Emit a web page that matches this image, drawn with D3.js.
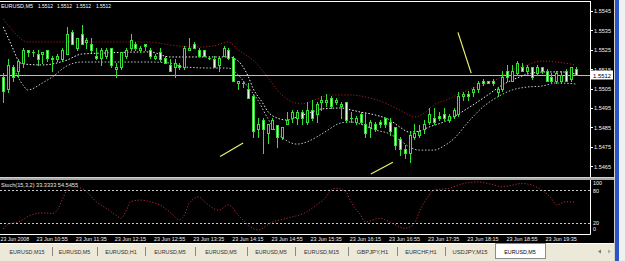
<!DOCTYPE html>
<html><head><meta charset="utf-8">
<script src="https://d3js.org/d3.v7.min.js"></script>
<style>html,body{margin:0;padding:0;background:#fff;overflow:hidden}svg{display:block}</style>
</head><body>
<svg id="c" width="625" height="261"></svg>
<script>
// ---------- DATA ----------
const symbol = "EURUSD,M5";
const lastPrice = 1.5512;
const opens  = [1.5511,1.5505,1.5516,1.5514,1.5518,1.5525,1.5524,1.5523,1.5523,1.5525,1.5521,1.5520,1.5520,1.5523,1.5534,1.5526,1.5533,1.5529,1.5528,1.5522,1.5521,1.5522,1.5526,1.5515,1.5516,1.5522,1.5526,1.5528,1.5525,1.5528,1.5525,1.5521,1.5524,1.5521,1.5517,1.5516,1.5517,1.5516,1.5525,1.5528,1.5525,1.5525,1.5521,1.5520,1.5517,1.5522,1.5525,1.5521,1.5508,1.5508,1.5505,1.5501,1.5484,1.5489,1.5482,1.5484,1.5486,1.5480,1.5487,1.5490,1.5490,1.5493,1.5488,1.5494,1.5492,1.5498,1.5498,1.5500,1.5498,1.5496,1.5498,1.5490,1.5488,1.5492,1.5487,1.5485,1.5487,1.5488,1.5490,1.5488,1.5485,1.5479,1.5474,1.5472,1.5480,1.5481,1.5484,1.5488,1.5490,1.5491,1.5492,1.5489,1.5491,1.5492,1.5501,1.5502,1.5503,1.5505,1.5509,1.5509,1.5509,1.5503,1.5505,1.5514,1.5509,1.5513,1.5516,1.5514,1.5516,1.5513,1.5516,1.5514,1.5511,1.5509,1.5509,1.5514,1.5510,1.5515];
const highs  = [1.5513,1.5520,1.5517,1.5520,1.5526,1.5525,1.5525,1.5525,1.5524,1.5525,1.5522,1.5523,1.5526,1.5537,1.5535,1.5531,1.5538,1.5531,1.5531,1.5526,1.5526,1.5526,1.5526,1.5518,1.5524,1.5526,1.5533,1.5529,1.5527,1.5528,1.5526,1.5523,1.5526,1.5522,1.5520,1.5520,1.5518,1.5527,1.5531,1.5529,1.5526,1.5525,1.5522,1.5522,1.5522,1.5527,1.5526,1.5522,1.5509,1.5509,1.5508,1.5502,1.5490,1.5490,1.5487,1.5490,1.5486,1.5485,1.5493,1.5494,1.5494,1.5494,1.5498,1.5499,1.5498,1.5501,1.5502,1.5501,1.5500,1.5498,1.5498,1.5493,1.5491,1.5493,1.5493,1.5489,1.5488,1.5489,1.5490,1.5490,1.5485,1.5480,1.5476,1.5483,1.5487,1.5486,1.5489,1.5495,1.5495,1.5493,1.5495,1.5492,1.5495,1.5503,1.5503,1.5504,1.5506,1.5509,1.5510,1.5509,1.5510,1.5506,1.5514,1.5517,1.5517,1.5519,1.5518,1.5517,1.5516,1.5517,1.5516,1.5515,1.5513,1.5514,1.5514,1.5515,1.5516,1.5516];
const lows   = [1.5498,1.5503,1.5509,1.5511,1.5516,1.5522,1.5522,1.5517,1.5518,1.5519,1.5514,1.5519,1.5519,1.5523,1.5528,1.5525,1.5528,1.5526,1.5524,1.5520,1.5517,1.5521,1.5516,1.5511,1.5515,1.5521,1.5525,1.5525,1.5524,1.5525,1.5521,1.5520,1.5519,1.5518,1.5514,1.5511,1.5515,1.5515,1.5525,1.5526,1.5522,1.5522,1.5520,1.5516,1.5514,1.5522,1.5520,1.5509,1.5505,1.5506,1.5500,1.5480,1.5480,1.5472,1.5477,1.5484,1.5475,1.5479,1.5487,1.5488,1.5487,1.5487,1.5487,1.5489,1.5488,1.5494,1.5496,1.5495,1.5497,1.5490,1.5488,1.5488,1.5487,1.5487,1.5480,1.5480,1.5483,1.5485,1.5485,1.5481,1.5474,1.5471,1.5469,1.5467,1.5479,1.5480,1.5482,1.5487,1.5487,1.5489,1.5489,1.5488,1.5490,1.5491,1.5499,1.5499,1.5501,1.5503,1.5507,1.5508,1.5507,1.5501,1.5504,1.5509,1.5509,1.5512,1.5514,1.5513,1.5510,1.5512,1.5513,1.5509,1.5508,1.5508,1.5508,1.5509,1.5509,1.5513];
const closes = [1.5504,1.5517,1.5511,1.5519,1.5525,1.5524,1.5524,1.5520,1.5524,1.5521,1.5520,1.5522,1.5525,1.5533,1.5528,1.5531,1.5528,1.5530,1.5525,1.5521,1.5525,1.5525,1.5517,1.5516,1.5524,1.5525,1.5530,1.5526,1.5526,1.5527,1.5522,1.5522,1.5520,1.5518,1.5514,1.5518,1.5516,1.5526,1.5526,1.5526,1.5522,1.5522,1.5521,1.5516,1.5521,1.5526,1.5521,1.5509,1.5509,1.5508,1.5500,1.5483,1.5487,1.5484,1.5487,1.5489,1.5480,1.5485,1.5489,1.5493,1.5493,1.5490,1.5494,1.5490,1.5497,1.5499,1.5499,1.5496,1.5499,1.5497,1.5489,1.5490,1.5490,1.5488,1.5482,1.5488,1.5484,1.5487,1.5487,1.5483,1.5476,1.5474,1.5472,1.5481,1.5482,1.5483,1.5487,1.5492,1.5488,1.5490,1.5490,1.5491,1.5494,1.5501,1.5502,1.5501,1.5505,1.5508,1.5508,1.5508,1.5508,1.5505,1.5511,1.5511,1.5514,1.5518,1.5514,1.5516,1.5511,1.5516,1.5514,1.5509,1.5509,1.5513,1.5512,1.5509,1.5516,1.5512];

// indicator bands: [bar index] and [price]
const upperIdx = [0,2,5,12,20,30,34,40,43,46,48,51,54,56,58,61,64,67,71,74,78,81,84,86,88,91,93,95,98,101,104,107,110,113,117];
const upperVal = [1.55409,1.55347,1.55290,1.55290,1.55290,1.55290,1.55275,1.55264,1.55270,1.55290,1.55249,1.55197,1.55110,1.55043,1.54996,1.54971,1.54996,1.55017,1.55017,1.55007,1.54976,1.54940,1.54904,1.54924,1.54966,1.54996,1.55022,1.55043,1.55069,1.55100,1.55146,1.55172,1.55192,1.55187,1.55172];
const midIdx = [0,2,3,4,8,13,16,20,30,34,46,48,49,50,51,53,54,56,58,60,63,65,69,71,73,76,79,81,83,85,87,90,92,95,99,102,105,108,111,114,117];
const midVal = [1.55368,1.55254,1.55197,1.55177,1.55172,1.55197,1.55228,1.55233,1.55239,1.55213,1.55213,1.55192,1.55161,1.55115,1.55053,1.54976,1.54934,1.54898,1.54888,1.54904,1.54929,1.54945,1.54950,1.54940,1.54929,1.54914,1.54888,1.54852,1.54826,1.54831,1.54852,1.54878,1.54904,1.54950,1.55017,1.55069,1.55105,1.55130,1.55136,1.55136,1.55125];
const lowerIdx = [2,4,5,8,10,13,16,30,34,37,43,46,48,50,52,54,56,58,60,62,64,66,69,71,73,76,79,81,83,85,88,90,92,95,98,101,104,107,110,113,117];
const lowerVal = [1.55161,1.55069,1.55043,1.55079,1.55110,1.55167,1.55187,1.55187,1.55182,1.55161,1.55156,1.55156,1.55120,1.55058,1.54991,1.54898,1.54821,1.54780,1.54764,1.54775,1.54800,1.54831,1.54873,1.54878,1.54867,1.54837,1.54816,1.54785,1.54749,1.54733,1.54733,1.54754,1.54790,1.54878,1.54955,1.55007,1.55043,1.55058,1.55063,1.55079,1.55074];

// stochastic
const stochIdx = [0,1,3,6,8,10,11,12,13,14,16,17,19,21,23,24,25,26,28,30,32,34,36,37,38,40,41,44,46,48,51,52,55,58,62,64,66,67,68,70,71,73,74,77,78,81,82,84,85,87,88,91,94,97,99,102,106,108,110,112,113,115,117];
const stochVal = [8,17,21,35,38,37,43,62,81,87,84,78,59,47,34,28,40,59,62,59,53,40,25,34,56,68,60,43,53,34,9,6,21,28,40,53,68,81,84,78,59,34,21,28,25,12,9,18,40,71,81,84,93,96,93,87,93,90,81,65,53,59,58];
const stochLevels = [80, 20];
const stochScaleLabels = [100, 80, 20, 0];
const stochTitle = "Stoch(15,3,2) 33.3333 54.5455";

// hand-drawn trendlines [bar index, price]
const trendlines = [
  [[44.3,1.5470],[49.0,1.5477]],
  [[75.1,1.5461],[79.6,1.5467]],
  [[92.9,1.5534],[95.6,1.5513]]
];

const priceTicks = [1.5545,1.5535,1.5525,1.5515,1.5505,1.5495,1.5485,1.5475,1.5465];
const timeLabels = ["23 Jun 2008","23 Jun 10:55","23 Jun 11:35","23 Jun 12:15","23 Jun 12:55","23 Jun 13:35","23 Jun 14:15","23 Jun 14:55","23 Jun 15:35","23 Jun 16:15","23 Jun 16:55","23 Jun 17:35","23 Jun 18:15","23 Jun 18:55","23 Jun 19:35"];
const timeLabelIdx = [-1,7,15,23,31,39,47,55,63,71,79,87,95,103,111];
const tabs = ["EURUSD,M15","EURUSD,M5","EURUSD,H1","EURUSD,M5","EURUSD,M5","EURUSD,M5","EURUSD,M15","GBPJPY,H1","EURCHF,H1","USDJPY,M15","EURUSD,M5"];
const activeTab = 10;

// ---------- LAYOUT ----------
const svg = d3.select("#c");
const plotR = 590, axisR = 613;
const mainTop = 2, mainBot = 177, stTop = 180, stBot = 234;
const FONT = "'Liberation Sans', Arial, sans-serif";

const x = d3.scaleLinear().domain([0, 117]).range([3.3, 575.9]);
const y = d3.scaleLinear().domain([1.5465, 1.5545]).range([166.2, 11]);
const ys = d3.scaleLinear().domain([0, 100]).range([233.2, 179.8]);

// backgrounds
svg.append("rect").attr("x",0).attr("y",0).attr("width",625).attr("height",261).attr("fill","#f4f4f4");
svg.append("rect").attr("x",0).attr("y",0).attr("width",axisR+1).attr("height",243).attr("fill","#000");
svg.append("rect").attr("x",axisR+1).attr("y",0).attr("width",2).attr("height",261).attr("fill","#d4d0c8");
svg.append("rect").attr("x",615).attr("y",0).attr("width",4).attr("height",261).attr("fill","#2a55c8");
svg.append("rect").attr("x",619).attr("y",0).attr("width",6).attr("height",261).attr("fill","#f0f0f0");

// frame
svg.append("line").attr("x1",0).attr("x2",plotR+0.5).attr("y1",1.5).attr("y2",1.5).attr("stroke","#fff");
svg.append("line").attr("x1",plotR+0.5).attr("x2",plotR+0.5).attr("y1",1).attr("y2",stBot+0.5).attr("stroke","#fff");
svg.append("line").attr("x1",0).attr("x2",plotR+0.5).attr("y1",stBot+0.5).attr("y2",stBot+0.5).attr("stroke","#fff");
// panel separator
svg.append("rect").attr("x",0).attr("y",mainBot).attr("width",axisR+1).attr("height",3).attr("fill","#a8a8a8");
svg.append("line").attr("x1",0).attr("x2",axisR+1).attr("y1",mainBot+0.5).attr("y2",mainBot+0.5).attr("stroke","#d0d0d0");

// clip paths
const defs = svg.append("defs");
defs.append("clipPath").attr("id","mainClip").append("rect").attr("x",0).attr("y",mainTop).attr("width",plotR).attr("height",mainBot-mainTop);
defs.append("clipPath").attr("id","stClip").append("rect").attr("x",0).attr("y",stTop).attr("width",plotR).attr("height",stBot-stTop);

const main = svg.append("g").attr("clip-path","url(#mainClip)");

// bid line
main.append("line").attr("x1",0).attr("x2",plotR).attr("y1",Math.round(y(lastPrice))+0.5).attr("y2",Math.round(y(lastPrice))+0.5).attr("stroke","#bdbdbd");

// band lines
const bandLine = d3.line().x(d=>x(d[0])).y(d=>y(d[1])).curve(d3.curveMonotoneX);
function pairs(a,b){ return a.map((v,i)=>[v,b[i]]); }
main.append("path").attr("d",bandLine(pairs(upperIdx,upperVal))).attr("fill","none").attr("stroke","#a02020").attr("stroke-width",1).attr("stroke-dasharray","1.2,1.8");
main.append("path").attr("d",bandLine(pairs(lowerIdx,lowerVal))).attr("fill","none").attr("stroke","#b8c8cc").attr("stroke-width",1).attr("stroke-dasharray","1.5,1.8");
main.append("path").attr("d",bandLine(pairs(midIdx,midVal))).attr("fill","none").attr("stroke","#f0f0f0").attr("stroke-width",1).attr("stroke-dasharray","1.5,1.8");

// candles
const bars = opens.map((o,i)=>({i,o,h:highs[i],l:lows[i],c:closes[i]}));
const cg = main.append("g");
const candleCol = "#33e033";
bars.forEach(b=>{
  const px = Math.round(x(b.i));
  const yh = Math.round(y(b.h)), yl = Math.round(y(b.l));
  cg.append("line").attr("x1",px+0.5).attr("x2",px+0.5).attr("y1",yh).attr("y2",yl+1).attr("stroke",candleCol);
  const yt = Math.round(y(Math.max(b.o,b.c))), yb = Math.round(y(Math.min(b.o,b.c)));
  const up = b.c > b.o;
  if (yb - yt < 1) {
    cg.append("line").attr("x1",px-1).attr("x2",px+2).attr("y1",yt+0.5).attr("y2",yt+0.5).attr("stroke",candleCol);
  } else {
    cg.append("rect").attr("x",px-0.5).attr("y",yt+0.5).attr("width",2).attr("height",yb-yt)
      .attr("fill", up ? "#000" : "#e4ffe4").attr("stroke", candleCol).attr("stroke-width",1);
  }
});

// trendlines
trendlines.forEach(t=>{
  main.append("line").attr("x1",x(t[0][0])).attr("y1",y(t[0][1])).attr("x2",x(t[1][0])).attr("y2",y(t[1][1]))
    .attr("stroke","#f0f070").attr("stroke-width",1.2);
});

// title
const title = svg.append("g").attr("font-family",FONT).attr("font-size",6).attr("fill","#fff");
title.append("text").attr("x",1).attr("y",8.3).attr("textLength",32).attr("lengthAdjust","spacingAndGlyphs").text(symbol);
[38,57,76,96].forEach(tx=>{
  title.append("text").attr("x",tx).attr("y",8.3).attr("textLength",15).attr("lengthAdjust","spacingAndGlyphs").text(lastPrice.toFixed(4));
});

// price axis
const pa = svg.append("g").attr("font-family",FONT).attr("font-size",6).attr("fill","#f0f0f0");
priceTicks.forEach(p=>{
  const ty = y(p);
  svg.append("line").attr("x1",plotR+1).attr("x2",plotR+3).attr("y1",Math.round(ty)+0.5).attr("y2",Math.round(ty)+0.5).attr("stroke","#fff");
  pa.append("text").attr("x",594).attr("y",ty+2.3).attr("textLength",17).attr("lengthAdjust","spacingAndGlyphs").text(p.toFixed(4));
});
// last price box
const ly = Math.round(y(lastPrice));
svg.append("rect").attr("x",591).attr("y",ly-4.5).attr("width",22).attr("height",9).attr("fill","#fff");
svg.append("text").attr("x",593).attr("y",ly+2.5).attr("font-family",FONT).attr("font-size",6).attr("fill","#000")
  .attr("textLength",18).attr("lengthAdjust","spacingAndGlyphs").text(lastPrice.toFixed(4));

// stochastic panel
const st = svg.append("g").attr("clip-path","url(#stClip)");
stochLevels.forEach(v=>{
  st.append("line").attr("x1",0).attr("x2",plotR).attr("y1",Math.round(ys(v))+0.5).attr("y2",Math.round(ys(v))+0.5)
    .attr("stroke","#c8c8c8").attr("stroke-dasharray","2,2");
});
const stLine = d3.line().x(d=>x(d[0])).y(d=>ys(d[1])).curve(d3.curveMonotoneX);
st.append("path").attr("d",stLine(pairs(stochIdx,stochVal))).attr("fill","none").attr("stroke","#b03038").attr("stroke-width",1).attr("stroke-dasharray","1.2,1.8");
svg.append("text").attr("x",1).attr("y",187).attr("font-family",FONT).attr("font-size",6).attr("fill","#e8e8e8")
  .attr("textLength",77).attr("lengthAdjust","spacingAndGlyphs").text(stochTitle);
const sa = svg.append("g").attr("font-family",FONT).attr("font-size",6).attr("fill","#f0f0f0");
stochScaleLabels.forEach(v=>{
  const ty = Math.max(183, Math.min(228.5, ys(v)));
  sa.append("text").attr("x",593).attr("y",ty+2.3).attr("textLength",String(v).length*3).attr("lengthAdjust","spacingAndGlyphs").text(v);
});

// time axis
const ta = svg.append("g").attr("font-family",FONT).attr("font-size",6).attr("fill","#f0f0f0");
timeLabels.forEach((t,k)=>{
  ta.append("text").attr("x",Math.max(0.5, x(timeLabelIdx[k])-1)).attr("y",240.7).attr("textLength",t.length*2.6).attr("lengthAdjust","spacingAndGlyphs").text(t);
});

// tab bar
svg.append("rect").attr("x",0).attr("y",243).attr("width",axisR+1).attr("height",18).attr("fill","#ece9d8");
svg.append("line").attr("x1",0).attr("x2",axisR+1).attr("y1",243.5).attr("y2",243.5).attr("stroke","#fff");
const sepX = [52,97,145,195,247,295,348,397,445,495];
sepX.slice(0,9).forEach(sx=>{
  svg.append("line").attr("x1",sx+0.5).attr("x2",sx+0.5).attr("y1",247).attr("y2",256).attr("stroke","#8a8a8a");
});
// active tab
svg.append("rect").attr("x",495.5).attr("y",243.5).attr("width",50).attr("height",15).attr("fill","#fff").attr("stroke","#8c8c8c");
const tb = svg.append("g").attr("font-family",FONT).attr("font-size",6.2);
tabs.forEach((t,k)=>{
  const left = k===0 ? 2 : sepX[k-1];
  const right = k===activeTab ? 545 : sepX[k];
  tb.append("text").attr("x",(left+right)/2).attr("y",254).attr("text-anchor","middle")
    .attr("fill", k===activeTab ? "#000" : "#303030")
    .attr("textLength", t.length*3.5).attr("lengthAdjust","spacingAndGlyphs").text(t);
});
// scroll arrows
svg.append("path").attr("d","M601,249.5 L598,251.5 L601,253.5 Z").attr("fill","#777");
svg.append("path").attr("d","M608,249.5 L611,251.5 L608,253.5 Z").attr("fill","#aaa");
</script>
</body></html>
